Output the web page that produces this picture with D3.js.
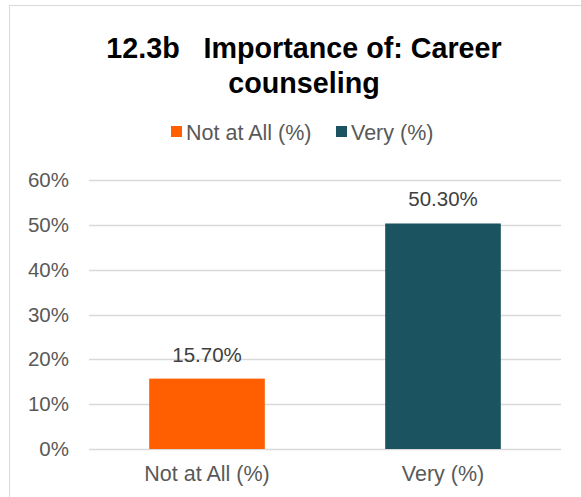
<!DOCTYPE html>
<html>
<head>
<meta charset="utf-8">
<script src="https://cdn.jsdelivr.net/npm/d3@7"></script>
<style>
  body { margin: 0; background: #fff; }
  svg { font-family: "Liberation Sans", Arial, sans-serif; }
</style>
</head>
<body>
<svg id="svg" width="581" height="497"></svg>
<script>
var categories = ["Not at All (%)", "Very (%)"];
var values = [15.7, 50.3];
var colors = ["#FF5F00", "#1B5361"];
var yTicks = [0, 10, 20, 30, 40, 50, 60];
var titleLines = ["12.3b   Importance of: Career", "counseling"];

var svg = d3.select("#svg");

// chart border
svg.append("rect")
    .attr("x", 9.5).attr("y", 5.5)
    .attr("width", 600).attr("height", 600)
    .attr("fill", "none")
    .attr("stroke", "#D9D9D9");

var plotLeft = 89, plotRight = 561, plotTop = 180, plotBottom = 449;

var x = d3.scaleBand()
    .domain(categories)
    .range([plotLeft, plotRight])
    .paddingInner(0.51)
    .paddingOuter(0.255);

var y = d3.scaleLinear()
    .domain([0, 60])
    .range([plotBottom, plotTop]);

// gridlines
svg.selectAll(".grid")
    .data(yTicks)
    .enter()
    .append("line")
    .attr("x1", plotLeft).attr("x2", plotRight)
    .attr("y1", function (d) { return Math.round(y(d)) + 0.5; })
    .attr("y2", function (d) { return Math.round(y(d)) + 0.5; })
    .attr("stroke", "#D9D9D9")
    .attr("stroke-width", 1.3);

// y axis labels
var yAxis = svg.append("g")
    .attr("transform", "translate(" + plotLeft + ",0)")
    .call(d3.axisLeft(y).tickValues(yTicks).tickSize(0).tickPadding(20)
        .tickFormat(function (d) { return d + "%"; }));
yAxis.select(".domain").remove();
yAxis.selectAll("text")
    .attr("font-size", 20.5)
    .attr("font-family", "Liberation Sans, Arial, sans-serif")
    .attr("fill", "#595959");

// bars
svg.selectAll(".bar")
    .data(values)
    .enter()
    .append("rect")
    .attr("x", function (d, i) { return x(categories[i]); })
    .attr("y", function (d) { return y(d); })
    .attr("width", x.bandwidth())
    .attr("height", function (d) { return y(0) - y(d); })
    .attr("fill", function (d, i) { return colors[i]; });

// value labels
svg.selectAll(".val")
    .data(values)
    .enter()
    .append("text")
    .attr("x", function (d, i) { return x(categories[i]) + x.bandwidth() / 2; })
    .attr("y", function (d) { return y(d) - 17; })
    .attr("text-anchor", "middle")
    .attr("font-size", 20.5)
    .attr("fill", "#404040")
    .text(function (d) { return d.toFixed(2) + "%"; });

// x axis labels
var xAxis = svg.append("g")
    .attr("transform", "translate(0," + plotBottom + ")")
    .call(d3.axisBottom(x).tickSize(0).tickPadding(17));
xAxis.select(".domain").remove();
xAxis.selectAll("text")
    .attr("font-size", 21.5)
    .attr("font-family", "Liberation Sans, Arial, sans-serif")
    .attr("fill", "#595959");

// title
svg.selectAll(".title")
    .data(titleLines)
    .enter()
    .append("text")
    .attr("x", 304)
    .attr("y", function (d, i) { return 58 + i * 34.5; })
    .attr("text-anchor", "middle")
    .attr("font-size", 28.7)
    .attr("font-weight", "bold")
    .attr("fill", "#000")
    .style("white-space", "pre")
    .text(function (d) { return d; });

// legend
var legendX = [171, 336];
var legend = svg.selectAll(".legend")
    .data(categories)
    .enter()
    .append("g")
    .attr("transform", function (d, i) { return "translate(" + legendX[i] + ",126)"; });
legend.append("rect")
    .attr("width", 11).attr("height", 11)
    .attr("fill", function (d, i) { return colors[i]; });
legend.append("text")
    .attr("x", 15).attr("y", 13.5)
    .attr("font-size", 21.5)
    .attr("fill", "#595959")
    .text(function (d) { return d; });
</script>
</body>
</html>
